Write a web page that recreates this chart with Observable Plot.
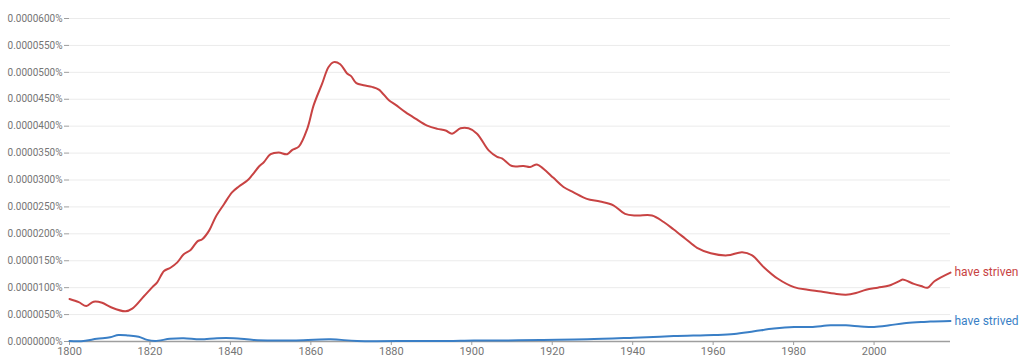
<!DOCTYPE html>
<html>
<head>
<meta charset="utf-8">
<script src="https://cdn.jsdelivr.net/npm/d3@7"></script>
<script src="https://cdn.jsdelivr.net/npm/@observablehq/plot@0.6"></script>
<style>
  html, body { margin: 0; padding: 0; background: #fff; }
  #chart { width: 1024px; height: 360px; }
</style>
</head>
<body>
<div id="chart"></div>
<script>
// values are in units of 0.0000001 %
const strivenYears = [1800,1802.3,1804.2,1806,1808.1,1810.2,1813.9,1815.6,1818.5,1820.6,1821.8,1823.5,1825.1,1826.8,1828.4,1830.1,1831.8,1833,1834.7,1836.3,1838.4,1840.4,1842.1,1844.2,1845.4,1847.1,1848.3,1850,1852,1854.1,1855.4,1857,1859.1,1860.7,1862.8,1864.4,1865.7,1867.3,1869,1870,1871.3,1873.1,1875.2,1876.9,1879.4,1881,1883.5,1886,1888.9,1891.4,1893.5,1895.1,1897.2,1899.2,1901.3,1904.2,1906.3,1907.5,1910,1912.9,1914.5,1916.2,1917.8,1920.3,1922.8,1925.3,1928.6,1931.9,1935.2,1938.1,1941,1944.8,1947.7,1950.2,1953.1,1956,1959.4,1963.5,1967.2,1969.7,1972.6,1976,1980.1,1983.5,1986.8,1990.1,1993,1995.5,1998,2000.9,2003.8,2006.5,2007.1,2009.9,2011.7,2013.3,2015,2019];
const strivenValues = [79,73,66,74,72,64,56,61,84,101,110,131,137,147,162,170,186,190,206,231,255,277,288,299,309,325,333,348,351,348,356,362,395,439,479,510,519,515,498,493,480,476,473,468,448,440,426,414,401,395,392,386,396,396,386,355,343,340,326,326,324,329,321,304,287,277,265,260,253,237,234,234,222,208,191,174,164,160,166,160,138,117,101,96,93,89,87,90,96,100,104,113,115,107,103,100,112,128];

const strivedYears = [1800,1803.5,1806.8,1810.1,1812.2,1814.7,1817.2,1819.3,1821.3,1825,1828.4,1832.5,1836.7,1840.8,1845.8,1850.7,1855.7,1864.9,1871.5,1886,1894,1900.5,1908.8,1917,1928.7,1940.3,1950.2,1960.2,1965.2,1970.2,1975.1,1980.1,1984.3,1989.2,1993,1996.7,2000,2003.8,2007.5,2011.7,2014,2019];
const strivedValues = [1,1,5,8,12,11,9,3,1,5,6,4,6,6,3,2,2,4,1,1,1,2,2,3,4,7,10,12,14,19,24,27,27,30,30,28,27,30,34,36,37,38];

const seriesNames = ["have striven", "have strived"];
const seriesColors = ["#c84343", "#3a7fc6"];
const xTicks = [1800,1820,1840,1860,1880,1900,1920,1940,1960,1980,2000];
const yTicks = [0,50,100,150,200,250,300,350,400,450,500,550,600];

const striven = strivenYears.map((y, i) => ({year: y, value: strivenValues[i], series: seriesNames[0]}));
const strived = strivedYears.map((y, i) => ({year: y, value: strivedValues[i], series: seriesNames[1]}));
const ends = [striven[striven.length - 1], strived[strived.length - 1]];

const chart = Plot.plot({
  width: 1024,
  height: 360,
  marginLeft: 69,
  marginRight: 74,
  marginTop: 18,
  marginBottom: 19,
  style: {fontFamily: "Roboto, sans-serif", fontSize: "11px", color: "#757575", background: "#fff"},
  x: {domain: [1800, 2019], label: null},
  y: {domain: [0, 600], label: null},
  color: {domain: seriesNames, range: seriesColors},
  marks: [
    Plot.gridY(yTicks, {stroke: "#ebebeb", strokeOpacity: 1}),
    Plot.axisY(yTicks, {tickFormat: d => (d * 1e-7).toFixed(7) + "%", tickSize: 5, tickPadding: 2, stroke: "#9e9e9e", fill: "#757575", fontSize: 10, label: null}),
    Plot.axisX(xTicks, {tickFormat: d => String(d), tickSize: 4, tickPadding: 2, stroke: "#9e9e9e", fill: "#757575", fontSize: 11, label: null}),
    Plot.ruleY([0], {stroke: "#9e9e9e", strokeWidth: 1.5}),
    Plot.line(striven, {x: "year", y: "value", stroke: "series", strokeWidth: 2, curve: "catmull-rom"}),
    Plot.line(strived, {x: "year", y: "value", stroke: "series", strokeWidth: 2, curve: "catmull-rom"}),
    Plot.text(ends, {x: "year", y: "value", text: "series", fill: "series", textAnchor: "start", dx: 4, fontSize: 12})
  ]
});
document.getElementById("chart").appendChild(chart);
</script>
</body>
</html>
